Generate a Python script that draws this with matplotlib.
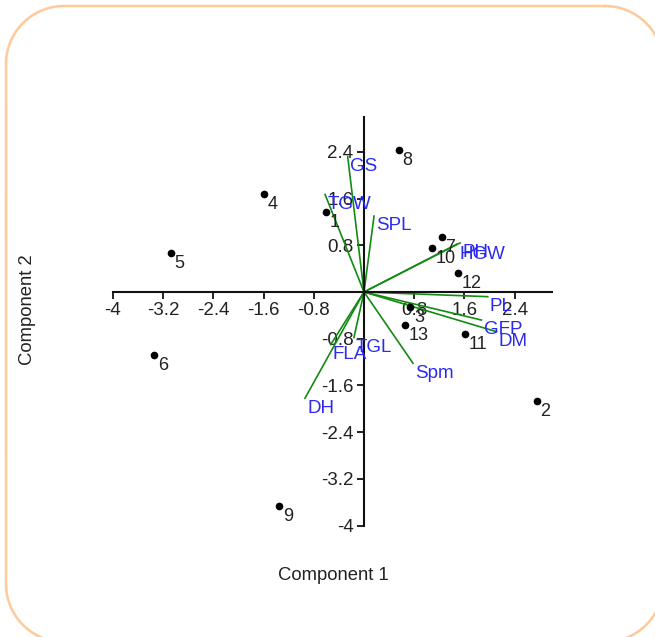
import matplotlib
matplotlib.use("Agg")
import matplotlib.pyplot as plt
import numpy as np

plt.rcParams['font.family'] = ['Liberation Sans', 'DejaVu Sans']

# Row scores (Component 1, Component 2)
obs_labels = ['1', '2', '3', '4', '5', '6', '7', '8', '9', '10', '11', '12', '13']
obs_x = [-0.61, 2.75, 0.74, -1.59, -3.07, -3.34, 1.24, 0.56, -1.35, 1.08, 1.61, 1.50, 0.66]
obs_y = [1.37, -1.87, -0.25, 1.68, 0.67, -1.08, 0.95, 2.43, -3.66, 0.75, -0.72, 0.33, -0.57]

# Variable loadings (biplot vectors)
var_labels = ['GS', 'TGW', 'SPL', 'PH', 'HGW', 'PL', 'GFP', 'DM', 'Spm', 'TGL', 'FLA', 'DH']
var_x = [-0.26, -0.62, 0.16, 1.53, 1.48, 1.97, 1.87, 2.11, 0.78, -0.16, -0.53, -0.94]
var_y = [2.32, 1.67, 1.30, 0.84, 0.82, -0.08, -0.48, -0.68, -1.22, -0.78, -0.90, -1.82]

xticks = [-4, -3.2, -2.4, -1.6, -0.8, 0.8, 1.6, 2.4]
yticks = [-4, -3.2, -2.4, -1.6, -0.8, 0.8, 1.6, 2.4]
xlabel = 'Component 1'
ylabel = 'Component 2'

W, H = 655, 637
fig = plt.figure(figsize=(W / 100, H / 100), dpi=100)

# rounded border (pixel-unit overlay axes, y measured from top)
bax = fig.add_axes([0, 0, 1, 1], zorder=-1)
bax.set_xlim(0, W)
bax.set_ylim(H, 0)
bax.axis('off')
x0, y0, x1, y1, r = 6, 6, 663, 642, 58
corners = [((x1 - r, y0 + r), -90, 0), ((x1 - r, y1 - r), 0, 90),
           ((x0 + r, y1 - r), 90, 180), ((x0 + r, y0 + r), 180, 270)]
bx, by = [], []
for (cx, cy), a0, a1 in corners:
    t = np.radians(np.linspace(a0, a1, 40))
    bx.extend(cx + r * np.cos(t))
    by.extend(cy + r * np.sin(t))
bx.append(bx[0])
by.append(by[0])
bax.plot(bx, by, color='#FFC99A', lw=1.8, clip_on=False)

ax = fig.add_axes([0, 0, 1, 1])
ax.set_facecolor('none')
ax.set_xlim(-364 / 62.8, (W - 364) / 62.8)
ax.set_ylim((292 - H) / 58.4, 292 / 58.4)

for s in ['top', 'right']:
    ax.spines[s].set_visible(False)
ax.spines['left'].set_position(('data', 0))
ax.spines['bottom'].set_position(('data', 0))
ax.spines['left'].set_bounds(-4, 3)
ax.spines['bottom'].set_bounds(-4, 3)
for s in ['left', 'bottom']:
    ax.spines[s].set_linewidth(1.5)
    ax.spines[s].set_color('#111111')
    ax.spines[s].set_zorder(3)

ax.set_xticks(xticks)
ax.set_xticklabels([f'{t:g}' for t in xticks])
ax.set_yticks(yticks)
ax.set_yticklabels([f'{t:g}' for t in yticks])
ax.tick_params(axis='both', direction='out', length=5, width=1.3, color='#111111',
               labelsize=13.5, labelcolor='#222222', pad=2.5)

# vectors
for lx, ly, lab in zip(var_x, var_y, var_labels):
    ax.plot([0, lx], [0, ly], color='#138a13', lw=1.2, zorder=2)
    ax.annotate(lab, (lx, ly), xytext=(1.5, -1.0), textcoords='offset points',
                ha='left', va='top', color='#2b2bf0', fontsize=13.5, zorder=4)

# points
ax.plot(obs_x, obs_y, 'o', color='black', markersize=4.5, zorder=5)
for px, py, lab in zip(obs_x, obs_y, obs_labels):
    ax.annotate(lab, (px, py), xytext=(2.5, -1.5), textcoords='offset points',
                ha='left', va='top', color='#222222', fontsize=13, zorder=5)

fig.text(333 / W, 1 - 575 / H, xlabel, ha='center', va='center', fontsize=13.3, color='#222222')
fig.text(28 / W, 1 - 310 / H, ylabel, ha='center', va='center', rotation=90,
         fontsize=13.3, color='#222222')

fig.savefig('out.png', dpi=100)
